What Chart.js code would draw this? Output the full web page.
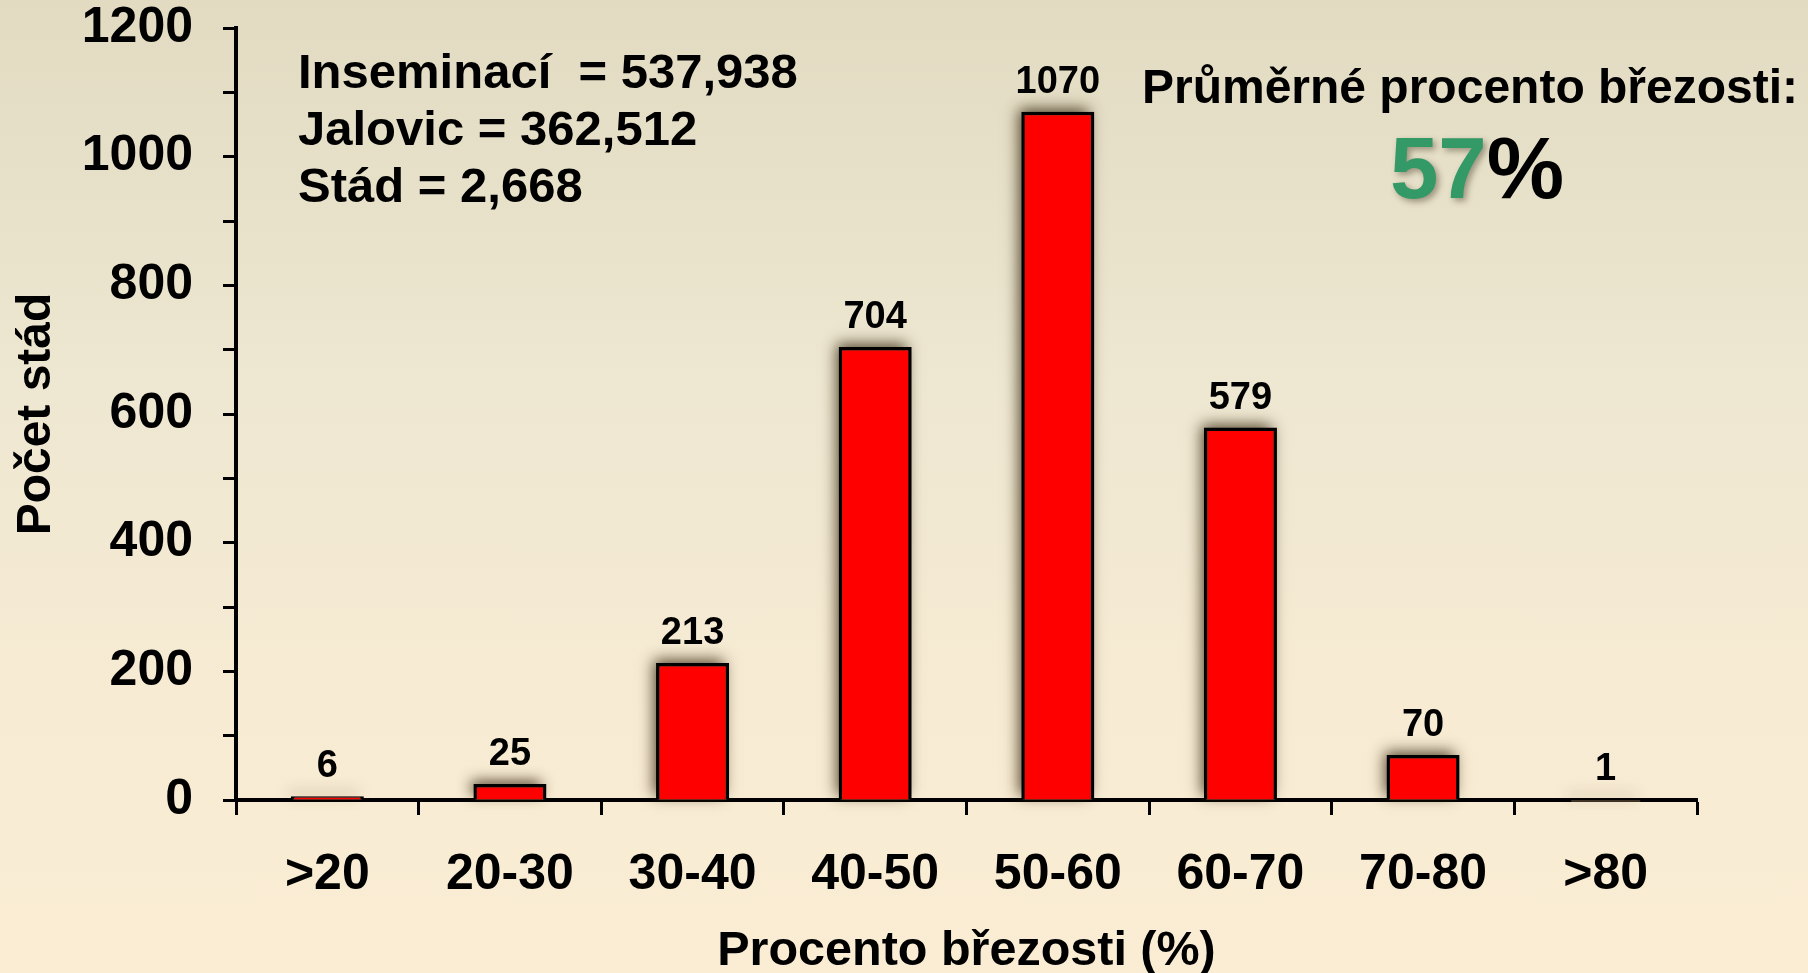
<!DOCTYPE html>
<html>
<head>
<meta charset="utf-8">
<script src="https://cdn.jsdelivr.net/npm/chart.js@4.4.1/dist/chart.umd.min.js"></script>
<style>
  html, body { margin: 0; padding: 0; }
  body {
    width: 1808px; height: 973px; overflow: hidden;
    background: linear-gradient(to bottom, #e2dbc2 0%, #eee7d1 40%, #f7ebd3 72%, #faedd4 100%);
  }
  #wrap { position: relative; width: 1808px; height: 973px; }
</style>
</head>
<body>
<div id="wrap"><canvas id="c" width="1808" height="973"></canvas></div>
<script>
// Rozdělení stád podle procenta březosti
const categories = ['>20', '20-30', '30-40', '40-50', '50-60', '60-70', '70-80', '>80'];
const herdCounts = [6, 25, 213, 704, 1070, 579, 70, 1];
const yTickMax = 1200;
const yTickStep = 100;
const yLabelStep = 200;
const summaryLines = ['Inseminací  = 537,938', 'Jalovic = 362,512', 'Stád = 2,668'];
const avgTitle = 'Průměrné procento březosti:';
const avgValue = '57';
const avgUnit = '%';

const FONT = '"Liberation Sans", Arial, sans-serif';

// Rozmazaný stín za sloupci (kreslí se pod samotné sloupce)
const barShadow = {
  id: 'barShadow',
  beforeDatasetsDraw(chart) {
    const ctx = chart.ctx;
    const meta = chart.getDatasetMeta(0);
    ctx.save();
    ctx.shadowColor = 'rgba(55, 40, 15, 0.85)';
    ctx.shadowBlur = 14;
    ctx.shadowOffsetX = -4;
    ctx.shadowOffsetY = -5;
    ctx.fillStyle = 'rgba(120, 100, 70, 1)';
    meta.data.forEach((bar) => {
      const p = bar.getProps(['x', 'y', 'base', 'width'], true);
      const top = Math.min(p.y, p.base - 1);
      ctx.fillRect(p.x - p.width / 2 + 2, top + 2, p.width - 4, Math.max(p.base - top - 2, 1));
    });
    ctx.restore();
  }
};

// Hodnoty nad sloupci
const valueLabels = {
  id: 'valueLabels',
  afterDatasetsDraw(chart) {
    const ctx = chart.ctx;
    const meta = chart.getDatasetMeta(0);
    ctx.save();
    ctx.font = 'bold 38px ' + FONT;
    ctx.fillStyle = '#000';
    ctx.textAlign = 'center';
    ctx.textBaseline = 'alphabetic';
    meta.data.forEach((bar, i) => {
      ctx.fillText(String(herdCounts[i]), bar.x, bar.y - 19);
    });
    ctx.restore();
  }
};

// Souhrnné texty v ploše grafu
const summaryText = {
  id: 'summaryText',
  afterDraw(chart) {
    const ctx = chart.ctx;
    ctx.save();
    ctx.fillStyle = '#000';
    ctx.textBaseline = 'alphabetic';
    ctx.textAlign = 'left';
    ctx.font = 'bold 49px ' + FONT;
    summaryLines.forEach((t, i) => ctx.fillText(t, 298, 88 + i * 57));

    ctx.textAlign = 'center';
    ctx.font = 'bold 48px ' + FONT;
    ctx.fillText(avgTitle, 1470, 103);

    ctx.font = 'bold 87px ' + FONT;
    const wNum = ctx.measureText(avgValue).width;
    const wUnit = ctx.measureText(avgUnit).width;
    const x0 = 1477 - (wNum + wUnit) / 2;
    ctx.textAlign = 'left';
    ctx.save();
    ctx.shadowColor = 'rgba(60, 50, 30, 0.45)';
    ctx.shadowBlur = 6;
    ctx.shadowOffsetX = 3;
    ctx.shadowOffsetY = 3;
    ctx.fillStyle = '#339966';
    ctx.fillText(avgValue, x0, 198);
    ctx.restore();
    ctx.fillStyle = '#000';
    ctx.fillText(avgUnit, x0 + wNum, 198);
    ctx.restore();
  }
};

new Chart(document.getElementById('c'), {
  type: 'bar',
  data: {
    labels: categories,
    datasets: [{
      data: herdCounts,
      backgroundColor: '#ff0000',
      borderColor: '#000000',
      borderWidth: 3.5,
      borderSkipped: 'bottom',
      barPercentage: 0.4,
      categoryPercentage: 1.0
    }]
  },
  options: {
    responsive: false,
    animation: false,
    devicePixelRatio: 1,
    layout: { padding: { left: 0, right: 111, top: 28, bottom: 0 } },
    plugins: { legend: { display: false }, tooltip: { enabled: false } },
    scales: {
      x: {
        border: { display: true, color: '#000', width: 4 },
        grid: {
          display: true, offset: true, drawOnChartArea: false,
          drawTicks: true, tickLength: 15, tickWidth: 3, tickColor: '#000'
        },
        ticks: {
          color: '#000', padding: 30,
          font: { family: FONT, size: 50, weight: 'bold' }
        },
        title: {
          display: true, text: 'Procento březosti (%)', color: '#000',
          font: { family: FONT, size: 48.5, weight: 'bold', lineHeight: 0.9 },
          padding: { top: 0, bottom: 0 }
        },
        afterFit(scale) { scale.height = 173; scale.paddingLeft = 0; scale.paddingRight = 0; }
      },
      y: {
        min: 0, max: yTickMax,
        border: { display: true, color: '#000', width: 4 },
        grid: {
          display: true, drawOnChartArea: false,
          drawTicks: true, tickLength: 13, tickWidth: 3, tickColor: '#000'
        },
        ticks: {
          stepSize: yTickStep, color: '#000', padding: 30, autoSkip: false,
          font: { family: FONT, size: 50, weight: 'bold' },
          callback: (v) => (v % yLabelStep === 0 ? String(v) : '')
        },
        title: {
          display: true, text: 'Počet stád', color: '#000',
          font: { family: FONT, size: 48, weight: 'bold' },
          padding: { top: 8, bottom: 0 }
        },
        afterFit(scale) { scale.width = 236; scale.paddingTop = 0; scale.paddingBottom = 0; }
      }
    }
  },
  plugins: [barShadow, valueLabels, summaryText]
});
</script>
</body>
</html>
